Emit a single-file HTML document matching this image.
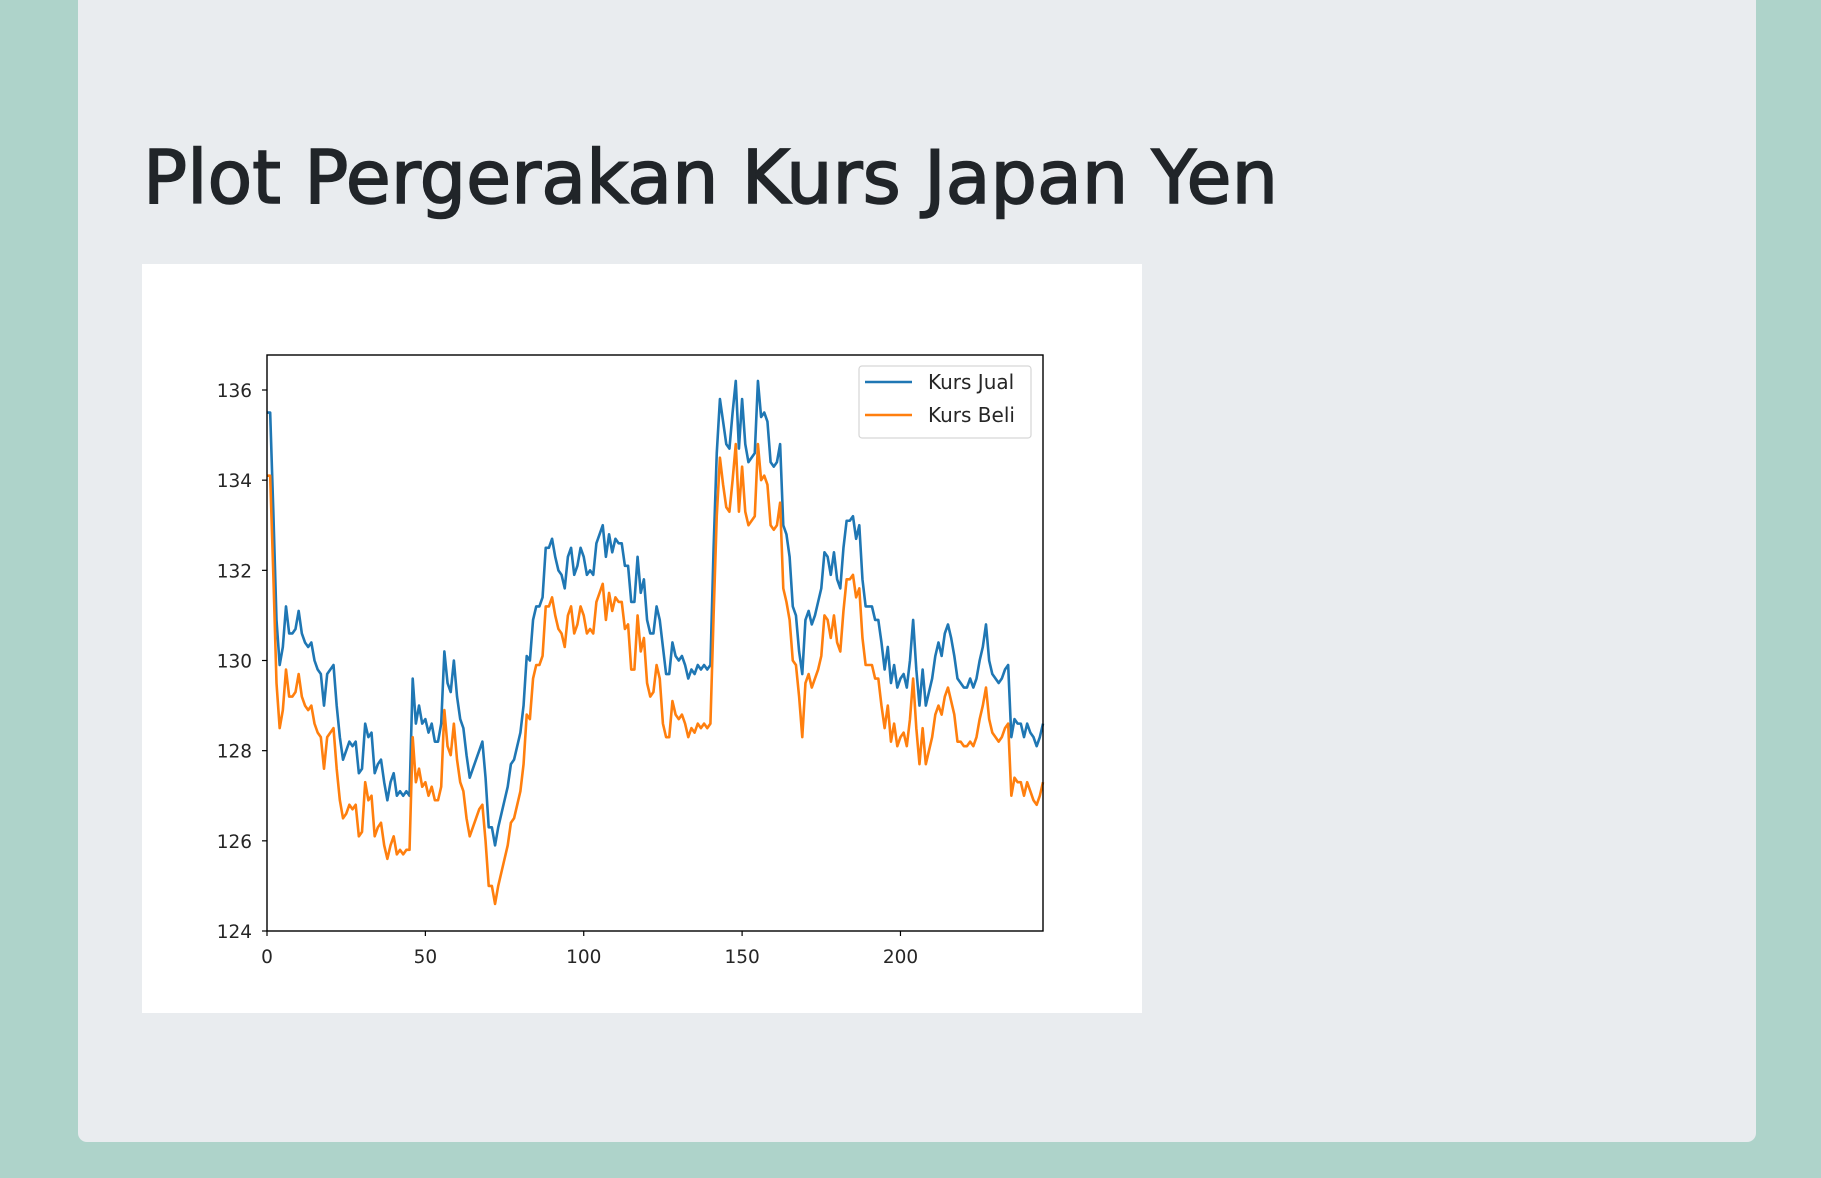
<!DOCTYPE html>
<html><head><meta charset="utf-8"><style>
html,body{margin:0;padding:0;background:#aed3ca;}
svg{display:block}
</style></head><body>
<svg id="page" width="1821" height="1178" viewBox="0 0 1821 1178" xmlns="http://www.w3.org/2000/svg">
<rect x="0" y="0" width="1821" height="1178" fill="#aed3ca"/>
<rect x="78" y="-10" width="1678" height="1152" rx="9" fill="#e9ecef"/>
<text x="143" y="203" font-family="'DejaVu Sans','Liberation Sans',sans-serif" font-size="74" fill="#212529" stroke="#212529" stroke-width="1.6" textLength="1135" lengthAdjust="spacingAndGlyphs">Plot Pergerakan Kurs Japan Yen</text>
<rect x="142" y="264" width="1000" height="749" fill="#ffffff"/>
<g id="chart"></g>
</svg>
<script>
const jual=[135.5,135.5,133.3,130.9,129.9,130.3,131.2,130.6,130.6,130.7,131.1,130.6,130.4,130.3,130.4,130.0,129.8,129.7,129.0,129.7,129.8,129.9,129.0,128.3,127.8,128.0,128.2,128.1,128.2,127.5,127.6,128.6,128.3,128.4,127.5,127.7,127.8,127.3,126.9,127.3,127.5,127.0,127.1,127.0,127.1,127.0,129.6,128.6,129.0,128.6,128.7,128.4,128.6,128.2,128.2,128.6,130.2,129.5,129.3,130.0,129.2,128.7,128.5,127.9,127.4,127.6,127.8,128.0,128.2,127.4,126.3,126.3,125.9,126.3,126.6,126.9,127.2,127.7,127.8,128.1,128.4,129.0,130.1,130.0,130.9,131.2,131.2,131.4,132.5,132.5,132.7,132.3,132.0,131.9,131.6,132.3,132.5,131.9,132.1,132.5,132.3,131.9,132.0,131.9,132.6,132.8,133.0,132.3,132.8,132.4,132.7,132.6,132.6,132.1,132.1,131.3,131.3,132.3,131.5,131.8,130.9,130.6,130.6,131.2,130.9,130.3,129.7,129.7,130.4,130.1,130.0,130.1,129.9,129.6,129.8,129.7,129.9,129.8,129.9,
129.8,129.9,132.5,134.6,135.8,135.3,134.8,134.7,135.5,136.2,134.7,135.8,134.8,134.4,134.5,134.6,136.2,135.4,135.5,135.3,134.4,134.3,134.4,134.8,133.0,132.8,132.3,131.2,131.0,130.2,129.7,130.9,131.1,130.8,131.0,131.3,131.6,132.4,132.3,131.9,132.4,131.8,131.6,132.5,133.1,133.1,133.2,132.7,133.0,131.8,131.2,131.2,131.2,130.9,130.9,130.4,129.8,130.3,129.5,129.9,129.4,129.6,129.7,129.4,130.0,130.9,129.8,129.0,129.8,129.0,129.3,129.6,130.1,130.4,130.1,130.6,130.8,130.5,130.1,129.6,129.5,129.4,129.4,129.6,129.4,129.6,130.0,130.3,130.8,130.0,129.7,129.6,129.5,129.6,129.8,129.9,128.3,128.7,128.6,128.6,128.3,128.6,128.4,128.3,128.1,128.3,128.6];
const beli=[134.1,134.1,131.9,129.5,128.5,128.9,129.8,129.2,129.2,129.3,129.7,129.2,129.0,128.9,129.0,128.6,128.4,128.3,127.6,128.3,128.4,128.5,127.6,126.9,126.5,126.6,126.8,126.7,126.8,126.1,126.2,127.3,126.9,127.0,126.1,126.3,126.4,125.9,125.6,125.9,126.1,125.7,125.8,125.7,125.8,125.8,128.3,127.3,127.6,127.2,127.3,127.0,127.2,126.9,126.9,127.2,128.9,128.1,127.9,128.6,127.8,127.3,127.1,126.5,126.1,126.3,126.5,126.7,126.8,126.0,125.0,125.0,124.6,125.0,125.3,125.6,125.9,126.4,126.5,126.8,127.1,127.7,128.8,128.7,129.6,129.9,129.9,130.1,131.2,131.2,131.4,131.0,130.7,130.6,130.3,131.0,131.2,130.6,130.8,131.2,131.0,130.6,130.7,130.6,131.3,131.5,131.7,130.9,131.5,131.1,131.4,131.3,131.3,130.7,130.8,129.8,129.8,131.0,130.2,130.5,129.5,129.2,129.3,129.9,129.6,128.6,128.3,128.3,129.1,128.8,128.7,128.8,128.6,128.3,128.5,128.4,128.6,128.5,128.6,
128.5,128.6,131.0,133.2,134.5,133.9,133.4,133.3,134.0,134.8,133.3,134.3,133.3,133.0,133.1,133.2,134.8,134.0,134.1,133.9,133.0,132.9,133.0,133.5,131.6,131.3,130.9,130.0,129.9,129.2,128.3,129.5,129.7,129.4,129.6,129.8,130.1,131.0,130.9,130.5,131.0,130.4,130.2,131.1,131.8,131.8,131.9,131.4,131.6,130.5,129.9,129.9,129.9,129.6,129.6,129.0,128.5,129.0,128.2,128.6,128.1,128.3,128.4,128.1,128.7,129.6,128.5,127.7,128.5,127.7,128.0,128.3,128.8,129.0,128.8,129.2,129.4,129.1,128.8,128.2,128.2,128.1,128.1,128.2,128.1,128.3,128.7,129.0,129.4,128.7,128.4,128.3,128.2,128.3,128.5,128.6,127.0,127.4,127.3,127.3,127.0,127.3,127.1,126.9,126.8,127.0,127.3];
const yTicks=[124,126,128,130,132,134,136];
const xTicks=[0,50,100,150,200];
const seriesNames=["Kurs Jual","Kurs Beli"];

const NS="http://www.w3.org/2000/svg";
const L=267,R=1043,T=355,B=931;
const xMin=0,xMax=jual.length-1,yMin=124,yMax=136;
const sx=v=>L+(v-xMin)/(xMax-xMin)*(R-L);
const sy=v=>B-(v-yMin)/(yMax-yMin)*(B-390);
const g=document.getElementById('chart');
function mk(tag,attrs){const e=document.createElementNS(NS,tag);for(const k in attrs)e.setAttribute(k,attrs[k]);return e;}
const font="'DejaVu Sans','Liberation Sans',sans-serif";
const plotBg=mk('rect',{x:L,y:T,width:R-L,height:B-T,fill:'#fff'});


g.appendChild(plotBg);
const colors=['#1f77b4','#ff7f0e'];
[jual,beli].forEach((arr,si)=>{
  const d=arr.map((v,i)=>(i?'L':'M')+sx(i).toFixed(2)+','+sy(v).toFixed(2)).join(' ');
  const p=mk('path',{d:d,fill:'none',stroke:colors[si],'stroke-width':2.6,'stroke-linejoin':'round'});
  
  
  g.appendChild(p);
});
const frame=mk('rect',{x:L,y:T,width:R-L,height:B-T,fill:'none',stroke:'#000','stroke-width':1.4});


g.appendChild(frame);
yTicks.forEach(t=>{
  const y=sy(t);
  const ln=mk('line',{x1:L-5,x2:L,y1:y,y2:y,stroke:'#000','stroke-width':1.2});
  
  
  g.appendChild(ln);
  const tx=mk('text',{x:L-15,y:y+7,'text-anchor':'end','font-family':font,'font-size':18.5,fill:'#262626'});
  tx.textContent=t;
  
  
  g.appendChild(tx);
});
xTicks.forEach(t=>{
  const x=sx(t);
  const ln=mk('line',{x1:x,x2:x,y1:B,y2:B+5,stroke:'#000','stroke-width':1.2});
  
  
  g.appendChild(ln);
  const tx=mk('text',{x:x,y:B+32,'text-anchor':'middle','font-family':font,'font-size':18.5,fill:'#262626'});
  tx.textContent=t;
  
  
  g.appendChild(tx);
});
const lg=mk('g',{});


g.appendChild(lg);
const lb=mk('rect',{x:859,y:366,width:172,height:72,rx:3,fill:'#fff','fill-opacity':0.8,stroke:'#d6d6d6','stroke-width':1.2});


lg.appendChild(lb);
seriesNames.forEach((n,i)=>{
  const y=382+i*33;
  const ln=mk('line',{x1:865,x2:912,y1:y,y2:y,stroke:colors[i],'stroke-width':2.6});
  
  
  lg.appendChild(ln);
  const tx=mk('text',{x:928,y:y+7,'font-family':font,'font-size':20,fill:'#262626'});
  tx.textContent=n;
  
  
  lg.appendChild(tx);
});
</script>
</body></html>
